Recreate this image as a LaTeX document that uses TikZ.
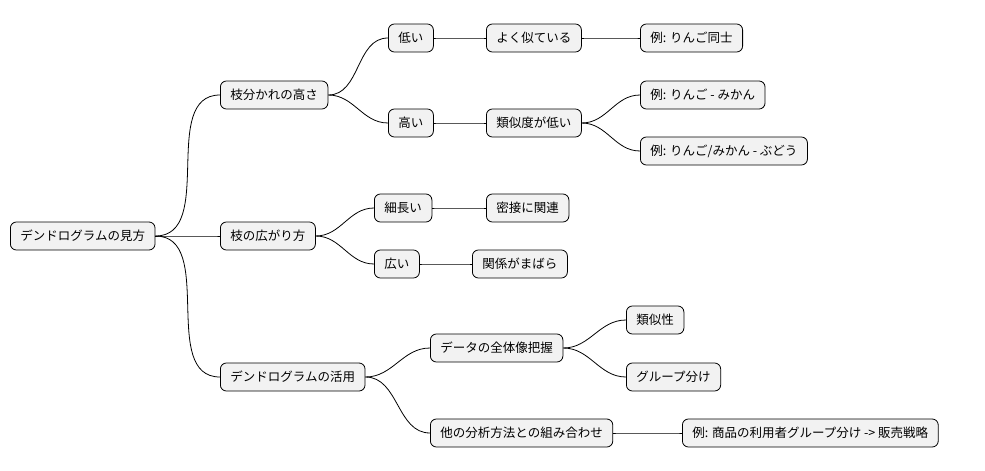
\documentclass[tikz,border=0pt]{standalone}
\usepackage{fontspec}
\setmainfont{Noto Sans CJK JP}
\begin{document}
\begin{tikzpicture}[x=1pt,y=-1pt,
  n/.style={draw=black,fill=black!5,rounded corners=6pt,line width=0.8pt,minimum height=28pt,inner xsep=10pt,anchor=west,font=\fontsize{12.5}{14}\selectfont},
  c/.style={line width=0.8pt,out=0,in=180}]
\useasboundingbox (0,0) rectangle (985,471);
\node[n] (r) at (10,236) {デンドログラムの見方};
\node[n] (a) at (220,95) {枝分かれの高さ};
\node[n] (a1) at (388,38) {低い};
\node[n] (a11) at (486,38) {よく似ている};
\node[n] (a111) at (640,38) {例: りんご同士};
\node[n] (a2) at (388,123) {高い};
\node[n] (a21) at (486,123) {類似度が低い};
\node[n] (a211) at (640,95) {例: りんご - みかん};
\node[n] (a212) at (640,151) {例: りんご/みかん - ぶどう};
\node[n] (b) at (220,236) {枝の広がり方};
\node[n] (b1) at (374,208) {細長い};
\node[n] (b11) at (486,208) {密接に関連};
\node[n] (b2) at (374,264) {広い};
\node[n] (b21) at (472,264) {関係がまばら};
\node[n] (c) at (220,377) {デンドログラムの活用};
\node[n] (c1) at (430,348) {データの全体像把握};
\node[n] (c11) at (626,320) {類似性};
\node[n] (c12) at (626,377) {グループ分け};
\node[n] (c2) at (430,433) {他の分析方法との組み合わせ};
\node[n] (c21) at (682,433) {例: 商品の利用者グループ分け -> 販売戦略};
\foreach \p/\q in {r/a,r/b,r/c,a/a1,a/a2,a1/a11,a11/a111,a2/a21,a21/a211,a21/a212,b/b1,b/b2,b1/b11,b2/b21,c/c1,c/c2,c1/c11,c1/c12,c2/c21}
  \draw[c] (\p.east) to (\q.west);
\end{tikzpicture}
\end{document}
